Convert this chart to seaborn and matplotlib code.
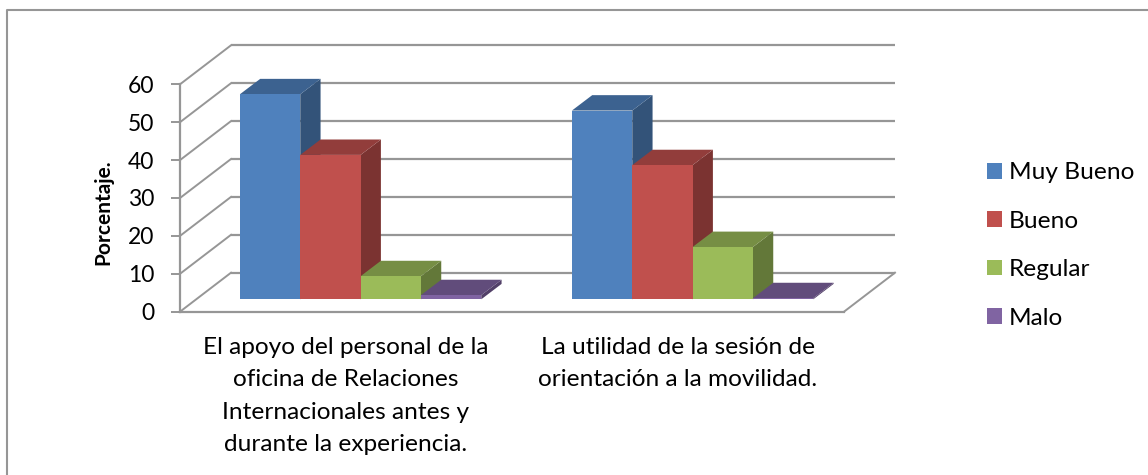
import numpy as np
import pandas as pd
import seaborn as sns
import matplotlib.pyplot as plt
from matplotlib.lines import Line2D
from matplotlib.patches import Polygon
from matplotlib.transforms import Affine2D, IdentityTransform
from matplotlib.colors import to_rgb

categories = ['El apoyo del personal de la\noficina de Relaciones\nInternacionales antes y\ndurante la experiencia.',
              'La utilidad de la sesión de\norientación a la movilidad.']
series = ['Muy Bueno', 'Bueno', 'Regular', 'Malo']
muy_bueno = [54.1, 49.8]
bueno = [38.1, 35.4]
regular = [6.1, 13.8]
malo = [1.1, 0.3]
y_ticks = [0, 10, 20, 30, 40, 50, 60]
colors = ['#4F81BD', '#C0504D', '#9BBB59', '#8064A2']

W, H = 1148, 475
GRID = '#969696'

rows = []
for name, vals in zip(series, [muy_bueno, bueno, regular, malo]):
    for c, v in zip(categories, vals):
        rows.append({'cat': c, 'serie': name, 'valor': v})
df = pd.DataFrame(rows)

plt.rcParams['font.family'] = ['Lato', 'DejaVu Sans']
fig = plt.figure(figsize=(W / 100, H / 100), dpi=100)
ax = fig.add_axes([180 / W, 1 - 311.7 / H, 664 / W, 227.4 / H])
ax.patch.set_alpha(0)

sns.barplot(data=df, x='cat', y='valor', hue='serie', hue_order=series, palette=colors,
            width=0.727, gap=0, saturation=1, ax=ax, errorbar=None)
ax.set_xlim(-0.5, 1.5)
ax.set_ylim(0, 60)
ax.set_yticks(y_ticks)
ax.set_xlabel('')
ax.set_ylabel('Porcentaje.', fontsize=15, fontweight='bold')
ax.yaxis.set_label_coords((113.5 - 180) / 664, (311.7 - 212) / 227.4)

fig.canvas.draw()

# walls, offset in pixels from the front plane
wall_dx, wall_dy = 51, 39
wall = ax.transData + Affine2D().translate(wall_dx, wall_dy)
ax.hlines(y_ticks, -0.5, 1.5, colors=GRID, lw=1.6, transform=wall, clip_on=False, zorder=1)
for t in y_ticks:
    p = ax.transData.transform((-0.5, t))
    ax.plot([p[0], p[0] + wall_dx], [p[1], p[1] + wall_dy], color=GRID, lw=1.4,
            transform=IdentityTransform(), clip_on=False, zorder=1)
p = ax.transData.transform((1.5, 0))
ax.plot([p[0], p[0] + wall_dx], [p[1], p[1] + wall_dy], color=GRID, lw=1.4,
        transform=IdentityTransform(), clip_on=False, zorder=1)

# bars sit partway into the floor, with sides and tops added from each bar
bar_dx, bar_dy = 14.6, 12.4
depth_dx, depth_dy = 20.3, 15.4
bars = sorted([b for b in ax.patches if b.get_height() > 0], key=lambda b: b.get_x())
z = 3
for b in bars:
    c = np.array(to_rgb(b.get_facecolor()))
    x0, y0 = ax.transData.transform((b.get_x(), 0))
    x1, y1 = ax.transData.transform((b.get_x() + b.get_width(), b.get_height()))
    x0, x1, y0, y1 = x0 + bar_dx, x1 + bar_dx, y0 + bar_dy, y1 + bar_dy
    side = [(x1, y0), (x1 + depth_dx, y0 + depth_dy), (x1 + depth_dx, y1 + depth_dy), (x1, y1)]
    top = [(x0, y1), (x0 + depth_dx, y1 + depth_dy), (x1 + depth_dx, y1 + depth_dy), (x1, y1)]
    ax.add_patch(Polygon(side, fc=c * 0.64, ec='none', transform=IdentityTransform(), clip_on=False, zorder=z))
    ax.add_patch(Polygon(top, fc=c * 0.76, ec='none', transform=IdentityTransform(), clip_on=False, zorder=z + 1))
    b.set_transform(ax.transData + Affine2D().translate(bar_dx, bar_dy))
    b.set_clip_on(False)
    b.set_zorder(z + 2)
    z += 3

for s in ['top', 'right']:
    ax.spines[s].set_visible(False)
for s in ['left', 'bottom']:
    ax.spines[s].set_color(GRID)
    ax.spines[s].set_linewidth(1.6)
    ax.spines[s].set_zorder(2)
ax.tick_params(axis='y', length=6.5, width=1.4, color=GRID, pad=12, labelsize=16.5, labelcolor='black')
ax.tick_params(axis='x', length=0, pad=18, labelsize=17.6, labelcolor='black')
for lab in ax.get_xticklabels():
    lab.set_linespacing(1.68)

ax.legend(loc='center left', bbox_to_anchor=(987 / W, 1 - 245.5 / H), bbox_transform=fig.transFigure,
          frameon=False, fontsize=17.6, handlelength=0.61, handleheight=0.61, handletextpad=0.28,
          labelspacing=1.12, borderpad=0, borderaxespad=0)

# outer chart frame, only top and left are inside the picture
fig.add_artist(Line2D([7 / W, 7 / W, 1], [0, 1 - 10 / H, 1 - 10 / H], color=GRID, lw=1.5,
                      transform=fig.transFigure))

fig.savefig('out.png', dpi=100)
